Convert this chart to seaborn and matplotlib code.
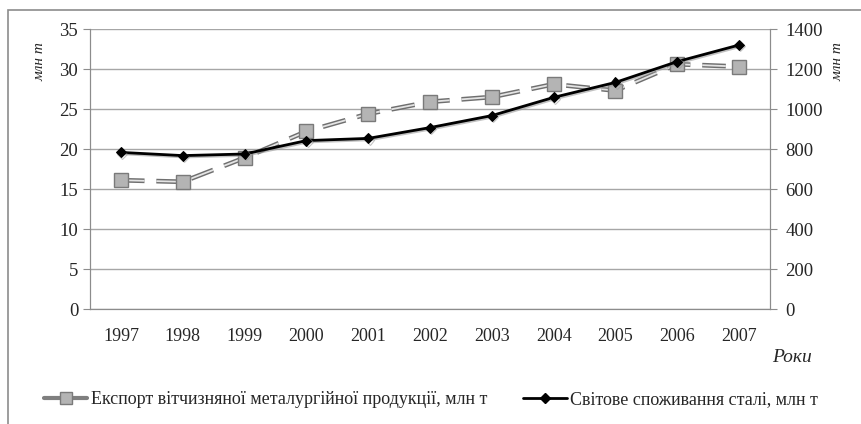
import pandas as pd
import numpy as np
import matplotlib
matplotlib.use('Agg')
import matplotlib.pyplot as plt
import matplotlib.patheffects as pe
from matplotlib.lines import Line2D
from matplotlib.patches import Rectangle
import seaborn as sns

years = ['1997', '1998', '1999', '2000', '2001', '2002', '2003', '2004', '2005', '2006', '2007']
export = [16.1, 15.9, 18.9, 22.2, 24.4, 25.9, 26.5, 28.1, 27.3, 30.6, 30.3]
consumption = [783, 767, 775, 842, 853, 907, 967, 1058, 1133, 1237, 1320]
export_name = 'Експорт вітчизняної металургійної продукції, млн т'
cons_name = 'Світове споживання сталі, млн т'

df = pd.DataFrame({'year': years, 'export': export, 'consumption': consumption})

sns.set_style('white')
plt.rcParams['font.family'] = ['Liberation Serif', 'DejaVu Serif']

fig = plt.figure(figsize=(8.62, 4.24), dpi=100)
ax = fig.add_axes([90 / 862, 1 - 309 / 424, 680 / 862, 280 / 424])
ax2 = ax.twinx()

# експорт - пунктир (подвійна лінія) з сірими квадратами
sns.lineplot(data=df, x='year', y='export', ax=ax, sort=False, color='#6f6f6f',
             lw=3.4, zorder=2)
ax.lines[-1].set_linestyle((0, (5, 2.5)))
sns.lineplot(data=df, x='year', y='export', ax=ax, sort=False, color='#e4e4e4',
             lw=1.3, zorder=2.5)
ax.lines[-1].set_linestyle((0, (17 / 1.3, 8.5 / 1.3)))
ax.lines[-1].set_dash_capstyle('butt')
sns.lineplot(data=df, x='year', y='export', ax=ax, sort=False, lw=0,
             marker='s', markersize=10, markerfacecolor='#b4b4b4',
             markeredgecolor='#7a7a7a', markeredgewidth=1, zorder=3)

# споживання - суцільна чорна лінія з ромбами
sns.lineplot(data=df, x='year', y='consumption', ax=ax2, sort=False, color='black',
             lw=2, marker='D', markersize=5, markerfacecolor='black',
             markeredgecolor='black', zorder=4)
ax2.lines[-1].set_path_effects([pe.SimpleLineShadow(offset=(1, -1), shadow_color='#999999', alpha=0.6),
                                pe.Normal()])

ax.set_xlim(-0.5, 10.5)
ax.set_ylim(0, 35)
ax2.set_ylim(0, 1400)
ax.set_yticks(np.arange(0, 36, 5))
ax2.set_yticks(np.arange(0, 1401, 200))
ax.grid(axis='y', color='#a6a6a6', lw=1)
ax.set_axisbelow(True)

for a in (ax, ax2):
    a.spines['top'].set_visible(False)
    for s in ('left', 'right', 'bottom'):
        a.spines[s].set_color('#8c8c8c')
    a.set_xlabel('')
    a.set_ylabel('')

ax.set_xticks(np.arange(11))
ax.set_xticklabels(years)
ax.set_xticks(np.arange(-0.5, 11, 1), minor=True)
ax.tick_params(axis='x', which='major', length=0, pad=14, labelsize=13)
ax.tick_params(axis='x', which='minor', length=5, color='#8c8c8c', direction='out')
ax.tick_params(axis='y', length=5, color='#8c8c8c', direction='out', labelsize=13.5, left=True)
ax2.tick_params(axis='y', length=5, color='#8c8c8c', direction='out', labelsize=13.5, right=True, pad=6)

fig.text(40 / 862, 1 - 62 / 424, 'млн т', rotation=90, style='italic', fontsize=11,
         ha='center', va='center')
fig.text(838 / 862, 1 - 62 / 424, 'млн т', rotation=90, style='italic', fontsize=11,
         ha='center', va='center')
fig.text(792 / 862, 1 - 357 / 424, 'Роки', style='italic', fontsize=14, ha='center', va='center')

# рамка діаграми
fig.patches.append(Rectangle((8 / 862, -0.05), 1.1, 1 - 10 / 424 + 0.05,
                             transform=fig.transFigure, fill=False, ec='#8c8c8c', lw=1.2))

h1 = Line2D([], [], color='#7f7f7f', lw=3, marker='s', markersize=8,
            markerfacecolor='#b4b4b4', markeredgecolor='#7a7a7a')
h2 = Line2D([], [], color='black', lw=2, marker='D', markersize=5)
fig.legend([h1, h2], [export_name, cons_name], loc='center', ncol=2,
           bbox_to_anchor=(0.5, 1 - 400 / 424), frameon=False, fontsize=13,
           handlelength=2.4, handletextpad=0.2, columnspacing=2.0)

fig.savefig('out.png', dpi=100)
